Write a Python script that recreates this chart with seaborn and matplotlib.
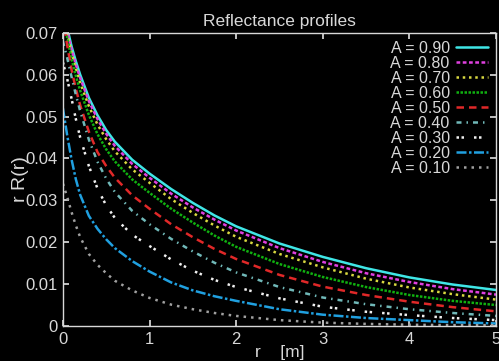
import numpy as np
import pandas as pd
import seaborn as sns
import matplotlib
matplotlib.use("Agg")
import matplotlib.pyplot as plt

# distancias r [m] donde se leyeron los perfiles
r = [0.0, 0.05, 0.1, 0.15, 0.2, 0.3, 0.4, 0.5, 0.6, 0.8, 1.0,
     1.25, 1.5, 1.75, 2.0, 2.5, 3.0, 3.5, 4.0, 4.5, 5.0]

albedo = ["0.90", "0.80", "0.70", "0.60", "0.50", "0.40", "0.30", "0.20", "0.10"]

rR_090 = [0.078, 0.0712, 0.0668, 0.0632, 0.0600, 0.0545, 0.0503, 0.0468, 0.0440, 0.0397, 0.0364,
          0.0327, 0.0294, 0.0264, 0.0238, 0.0197, 0.0165, 0.0138, 0.0116, 0.0099, 0.0086]
rR_080 = [0.077, 0.0705, 0.0660, 0.0624, 0.0592, 0.0537, 0.0494, 0.0459, 0.0430, 0.0387, 0.0354,
          0.0316, 0.0283, 0.0254, 0.0228, 0.0186, 0.0153, 0.0126, 0.0105, 0.0088, 0.0075]
rR_070 = [0.076, 0.0698, 0.0652, 0.0614, 0.0581, 0.0525, 0.0481, 0.0446, 0.0417, 0.0374, 0.0342,
          0.0303, 0.0270, 0.0240, 0.0213, 0.0172, 0.0140, 0.0113, 0.0092, 0.0076, 0.0063]
rR_060 = [0.075, 0.0688, 0.0638, 0.0597, 0.0562, 0.0504, 0.0458, 0.0422, 0.0393, 0.0350, 0.0318,
          0.0280, 0.0247, 0.0216, 0.0189, 0.0148, 0.0117, 0.0093, 0.0074, 0.0060, 0.0050]
rR_050 = [0.074, 0.0670, 0.0612, 0.0566, 0.0527, 0.0464, 0.0415, 0.0382, 0.0354, 0.0312, 0.0280,
          0.0243, 0.0212, 0.0184, 0.0160, 0.0122, 0.0094, 0.0074, 0.0058, 0.0045, 0.0035]
rR_040 = [0.068, 0.0640, 0.0595, 0.0552, 0.0513, 0.0445, 0.0392, 0.0352, 0.0320, 0.0275, 0.0243,
          0.0208, 0.0178, 0.0151, 0.0128, 0.0093, 0.0068, 0.0052, 0.0040, 0.0031, 0.0024]
rR_030 = [0.063, 0.0590, 0.0543, 0.0494, 0.0450, 0.0382, 0.0328, 0.0288, 0.0258, 0.0218, 0.0191,
          0.0159, 0.0132, 0.0110, 0.0093, 0.0066, 0.0046, 0.0034, 0.0026, 0.0019, 0.0014]
rR_020 = [0.052, 0.0455, 0.0398, 0.0350, 0.0313, 0.0263, 0.0232, 0.0207, 0.0186, 0.0155, 0.0130,
          0.0104, 0.0085, 0.0071, 0.0060, 0.0040, 0.0027, 0.0019, 0.0014, 0.0009, 0.0006]
rR_010 = [0.034, 0.0308, 0.0272, 0.0240, 0.0212, 0.0172, 0.0146, 0.0126, 0.0108, 0.0085, 0.0067,
          0.0051, 0.0040, 0.0031, 0.0024, 0.0014, 0.0008, 0.0005, 0.0003, 0.0002, 0.0002]

perfiles = [rR_090, rR_080, rR_070, rR_060, rR_050, rR_040, rR_030, rR_020, rR_010]

# === formato largo para seaborn ===
filas = []
for a, vals in zip(albedo, perfiles):
    for ri, v in zip(r, vals):
        filas.append({"r": ri, "rR": v, "A": f"A = {a}"})
df = pd.DataFrame(filas)

etiquetas = [f"A = {a}" for a in albedo]
colores = ["#3fe6e6", "#e040e0", "#d8d840", "#10b010", "#e02828",
           "#70b8b8", "#f0f0f0", "#20a0e0", "#a0a0a0"]
guiones = ["", (1.5, 1), (1, 1.5), (1, 0.6), (3, 2),
           (2, 2, 0.6, 2), (1, 1, 1, 4), (4, 1, 1, 1), (1, 2)]

sns.set_theme(style="ticks")
plt.rcParams["font.family"] = ["Liberation Sans", "DejaVu Sans"]

fig = plt.figure(figsize=(4.99, 3.61), dpi=100, facecolor="black")
ax = fig.add_axes([0.126, 0.097, 0.868, 0.812], facecolor="black")

sns.lineplot(
    data=df, x="r", y="rR", hue="A", style="A",
    hue_order=etiquetas, style_order=etiquetas,
    palette=dict(zip(etiquetas, colores)),
    dashes=dict(zip(etiquetas, guiones)),
    linewidth=1.8, ax=ax,
)

ax.set_xlim(0, 5)
ax.set_ylim(0, 0.07)
ax.set_xticks([0, 1, 2, 3, 4, 5])
ax.set_yticks([0, 0.01, 0.02, 0.03, 0.04, 0.05, 0.06, 0.07])
ax.set_yticklabels(["0", "0.01", "0.02", "0.03", "0.04", "0.05", "0.06", "0.07"])

gris = "#d8d8d8"
for s in ax.spines.values():
    s.set_color(gris)
    s.set_linewidth(1.0)
ax.tick_params(colors=gris, labelcolor=gris, direction="in", length=4,
               top=True, right=True, labelsize=12, pad=4)

ax.set_title("Reflectance profiles", color=gris, fontsize=12.5, pad=5)
ax.set_xlabel("r    [m]", color=gris, fontsize=12.5, labelpad=-1)
ax.set_ylabel("r R(r)", color=gris, fontsize=14, labelpad=-3)

leg = ax.legend(loc="upper right", frameon=False, markerfirst=False,
                fontsize=11.5, labelspacing=0.0, handlelength=2.0,
                borderaxespad=0.1, handletextpad=0.4)
for t in leg.get_texts():
    t.set_color(gris)

fig.savefig("out.png", dpi=100, facecolor="black")
